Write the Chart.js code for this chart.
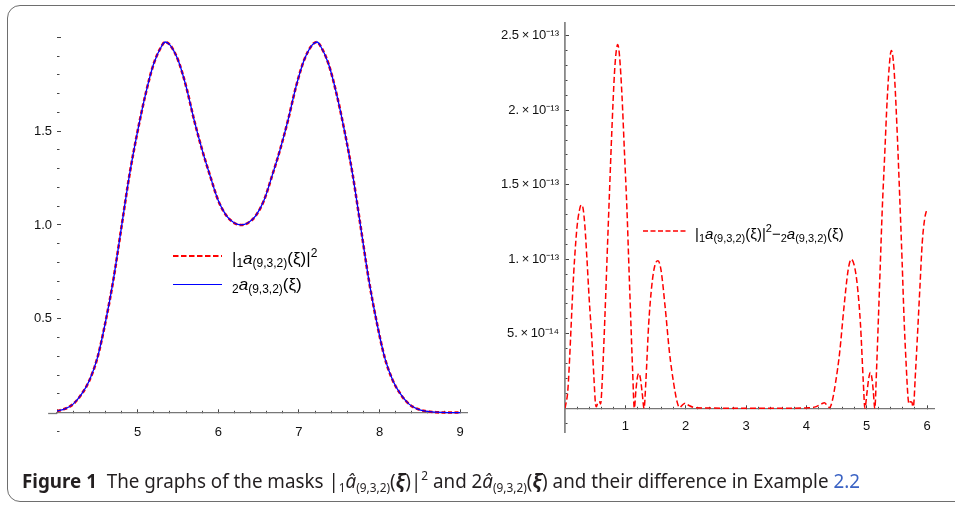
<!DOCTYPE html>
<html><head><meta charset="utf-8">
<script src="https://cdn.jsdelivr.net/npm/chart.js@4.4.0/dist/chart.umd.min.js"></script>
<style>
html,body{margin:0;padding:0;background:#fff;}
body{width:955px;height:505px;position:relative;overflow:hidden;font-family:"Liberation Sans",Arial,sans-serif;}
#frame{position:absolute;left:7px;top:5px;width:1000px;height:497px;border:1.5px solid #6e6e6e;border-radius:13px;box-sizing:border-box;}
canvas{position:absolute;top:0;}
#cL{left:0;}
#cR{left:480px;}
#over{position:absolute;left:0;top:0;}
.leg{position:absolute;font-size:17px;color:#000;white-space:nowrap;line-height:1;}
.leg sub{font-size:12px;vertical-align:-3px;}
.leg sup{font-size:12px;vertical-align:7px;}
#legR{font-size:15px;}
#legR sub{font-size:11px;}
#legR sup{font-size:11px;}
#cap{position:absolute;left:22px;top:469px;font-family:"Noto Sans",sans-serif;font-size:19px;color:#231f20;white-space:nowrap;transform-origin:0 0;line-height:1.2;}
#cap sub{font-size:12px;vertical-align:-4px;}
#cap sup{font-size:12px;vertical-align:8px;}
</style></head>
<body>
<div id="frame"></div>
<canvas id="cL" width="480" height="450"></canvas>
<canvas id="cR" width="475" height="450"></canvas>
<svg id="over" width="955" height="505">
  <line x1="173" y1="256" x2="222" y2="256" stroke="#ff0000" stroke-width="2" stroke-dasharray="5.5 2.5"/>
  <line x1="173" y1="284.5" x2="222" y2="284.5" stroke="#0000ff" stroke-width="1.2"/>
  <line x1="643" y1="231" x2="686" y2="231" stroke="#ff0000" stroke-width="1.5" stroke-dasharray="5 2.5"/>
</svg>
<div class="leg" style="left:232px;top:247px">|<sub>1</sub><i>a</i><sub>(9,3,2)</sub>(ξ)|<sup>2</sup></div>
<div class="leg" style="left:232px;top:276px"><sub>2</sub><i>a</i><sub>(9,3,2)</sub>(ξ)</div>
<div class="leg" id="legR" style="left:695px;top:223px">|<sub>1</sub><i>a</i><sub>(9,3,2)</sub>(ξ)|<sup>2</sup>−<sub>2</sub><i>a</i><sub>(9,3,2)</sub>(ξ)</div>
<div id="cap"><b>Figure 1</b>&nbsp;&nbsp;The graphs of the masks |<sub>1</sub><i>â</i><sub>(9,3,2)</sub>(<b><i>ξ</i></b>)|<sup>2</sup> and 2<i>â</i><sub>(9,3,2)</sub>(<b><i>ξ</i></b>) and their difference in Example <span style="color:#3b63c4">2.2</span></div>
<script>
// ---------- Left panel data: xi values and the two (coinciding) curves ----------
const leftXi = [4.0,4.1,4.2,4.3,4.4,4.5,4.6,4.7,4.8,4.9,5.0,5.1,5.2,5.3,5.34,5.4,5.5,5.6,5.7,5.8,5.9,6.0,6.1,6.2,6.283,
  6.366,6.466,6.566,6.666,6.766,6.866,6.966,7.066,7.166,7.226,7.266,7.366,7.466,7.566,7.666,7.766,7.866,7.966,8.066,8.166,8.266,8.366,8.466,8.566,8.7,8.85,9.0];
const leftSquared = [0.008,0.02,0.045,0.095,0.17,0.29,0.48,0.71,0.99,1.27,1.50,1.70,1.86,1.955,1.975,1.96,1.88,1.74,1.56,1.40,1.26,1.13,1.05,1.01,1.0,
  1.01,1.05,1.13,1.26,1.40,1.56,1.74,1.88,1.96,1.975,1.955,1.86,1.70,1.50,1.27,0.99,0.71,0.48,0.29,0.17,0.095,0.045,0.02,0.008,0.002,0.0,0.0];
const leftMask = [0.008,0.02,0.045,0.095,0.17,0.29,0.48,0.71,0.99,1.27,1.50,1.70,1.86,1.955,1.975,1.96,1.88,1.74,1.56,1.40,1.26,1.13,1.05,1.01,1.0,
  1.01,1.05,1.13,1.26,1.40,1.56,1.74,1.88,1.96,1.975,1.955,1.86,1.70,1.50,1.27,0.99,0.71,0.48,0.29,0.17,0.095,0.045,0.02,0.008,0.002,0.0,0.0];

// ---------- Right panel data: difference (in units of 1e-13) ----------
const rightXi = [0.000,0.020,0.045,0.070,0.100,0.130,0.160,0.200,0.240,0.270,0.300,0.330,0.364,0.400,0.447,0.480,0.505,0.520,0.545,0.570,0.590,0.600,
  0.630,0.660,0.696,0.740,0.778,0.820,0.850,0.872,0.900,0.944,0.985,1.027,1.060,1.093,1.120,1.149,1.175,1.200,1.225,1.250,1.280,1.310,
  1.340,1.386,1.440,1.490,1.540,1.590,1.662,1.730,1.800,1.860,1.900,1.940,1.990,2.050,2.150,2.300,2.600,3.000,3.300,3.700,4.000,
  4.150,4.250,4.300,4.340,4.383,4.423,4.483,4.553,4.621,4.693,4.743,4.793,4.843,4.897,4.943,4.970,5.003,5.033,5.058,5.083,5.108,5.134,
  5.163,5.190,5.223,5.256,5.298,5.339,5.383,5.408,5.433,5.463,5.505,5.543,5.587,5.620,5.653,5.683,5.700,5.725,5.750,5.765,5.780,
  5.803,5.836,5.880,5.920,5.960,6.000];
const rightDiffE13 = [0.00,0.04,0.11,0.28,0.54,0.80,1.01,1.22,1.33,1.365,1.34,1.22,1.00,0.74,0.45,0.20,0.03,0.01,0.04,0.045,0.03,0.06,
  0.30,0.60,1.00,1.48,1.88,2.25,2.40,2.44,2.38,2.10,1.72,1.33,0.94,0.56,0.26,0.00,0.12,0.21,0.235,0.20,0.10,0.00,
  0.18,0.56,0.83,0.96,0.99,0.93,0.67,0.38,0.17,0.04,0.005,0.02,0.035,0.02,0.005,0.003,0.001,0.0,0.0,0.001,0.003,
  0.010,0.030,0.037,0.022,0.005,0.04,0.17,0.38,0.67,0.93,1.00,0.96,0.83,0.56,0.18,0.00,0.10,0.20,0.24,0.21,0.12,0.00,
  0.26,0.56,0.94,1.32,1.70,2.07,2.34,2.40,2.36,2.21,1.85,1.46,0.98,0.59,0.30,0.08,0.03,0.045,0.04,0.01,0.03,
  0.20,0.45,0.80,1.11,1.27,1.34];

// ---------- Tick definitions ----------
const leftXMajor = [4,5,6,7,8,9];
const leftXLabels = ['','5','6','7','8','9'];
const leftYMajor = [0,0.5,1.0,1.5,2.0];
const leftYLabels = ['','0.5','1.0','1.5',''];
const rightXMajor = [0,1,2,3,4,5,6];
const rightXLabels = ['','1','2','3','4','5','6'];
const rightYMajor = [0,0.5,1.0,1.5,2.0,2.5];
const rightYLabels = ['','5.\u2009×\u200910⁻¹⁴','1.\u2009×\u200910⁻¹³','1.5\u2009×\u200910⁻¹³','2.\u2009×\u200910⁻¹³','2.5\u2009×\u200910⁻¹³'];

function range(a,b,s){const r=[];const n=Math.round((b-a)/s);for(let i=0;i<=n;i++)r.push(Math.round((a+i*s)*1e9)/1e9);return r;}
const leftXTicks = range(4,9,0.2);
const leftYTicks = range(-0.1,2.0,0.1);
const rightXTicks = range(0,6,0.2);
const rightYTicks = range(-0.1,2.5,0.1);

function idx(list,v){return list.findIndex(m=>Math.abs(m-v)<1e-7);}
function pts(xs,ys){return xs.map((x,i)=>({x:x,y:ys[i]}));}

const FONT = {family:'"Liberation Sans", Arial, sans-serif', size:13};
const TICKC = '#444';

function xScale(ticksArr, major, labels, min, max, tl, pad){
  return {
    type:'linear', position:{y:0}, min:min, max:max,
    afterFit(s){s.height=0;},
    afterBuildTicks(s){s.ticks = ticksArr.map(v=>({value:v}));},
    border:{display:true,color:'#777',width:1.3},
    grid:{display:true,drawOnChartArea:false,drawTicks:true,tickLength:tl,tickColor:TICKC,tickWidth:1,
      tickBorderDash:(c)=> (c.tick && idx(major,c.tick.value)>=0) ? [] : [2.5,100]},
    ticks:{autoSkip:false,maxRotation:0,minRotation:0,padding:pad,color:'#111',font:FONT,
      callback:(v)=>{const i=idx(major,v);return i>=0?labels[i]:'';}}
  };
}
function yScale(ticksArr, major, labels, min, max, tl, pad, width, borderOpts){
  return {
    type:'linear', position:'left', min:min, max:max,
    afterFit(s){s.width=width;},
    afterBuildTicks(s){s.ticks = ticksArr.map(v=>({value:v}));},
    border:borderOpts,
    grid:{display:true,drawOnChartArea:false,drawTicks:true,tickLength:tl,tickColor:TICKC,tickWidth:1,
      tickBorderDash:(c)=> (c.tick && idx(major,c.tick.value)>=0) ? [] : [0,Math.abs(tl)-2.5,2.5,100]},
    ticks:{autoSkip:false,padding:pad,color:'#111',font:FONT,
      callback:(v)=>{const i=idx(major,v);return i>=0?labels[i]:'';}}
  };
}

const axisStub = {
  id:'axisStub',
  beforeDatasetsDraw(chart,args,opts){
    if(opts.from===undefined) return;
    const xs=chart.scales.x, ys=chart.scales.y, ctx=chart.ctx;
    const py=Math.round(ys.getPixelForValue(0))+0.5;
    ctx.save(); ctx.strokeStyle='#777'; ctx.lineWidth=1.3;
    ctx.beginPath(); ctx.moveTo(xs.getPixelForValue(opts.from),py); ctx.lineTo(chart.chartArea.left,py); ctx.stroke();
    ctx.restore();
  }
};

new Chart(document.getElementById('cL'),{
  type:'line',
  data:{datasets:[
    {label:'2a(9,3,2)(ξ)',data:pts(leftXi,leftMask),borderColor:'#0000ff',borderWidth:1.3,pointRadius:0,cubicInterpolationMode:'monotone',order:0},
    {label:'|1a(9,3,2)(ξ)|^2',data:pts(leftXi,leftSquared),borderColor:'#ff0000',borderWidth:2.6,borderDash:[4,2.5],pointRadius:0,cubicInterpolationMode:'monotone',order:1}
  ]},
  options:{
    responsive:false,animation:false,
    layout:{padding:{left:7,right:12,top:37.3,bottom:12.4}},
    plugins:{legend:{display:false},tooltip:{enabled:false},axisStub:{from:3.89}},
    scales:{
      x:xScale(leftXTicks,leftXMajor,leftXLabels,4,9.093,-4,16),
      y:yScale(leftYTicks,leftYMajor,leftYLabels,-0.11,2.0,-4,9,50,{display:false})
    }
  },
  plugins:[axisStub]
});

new Chart(document.getElementById('cR'),{
  type:'line',
  data:{datasets:[
    {label:'|1a(9,3,2)(ξ)|^2 − 2a(9,3,2)(ξ)',data:pts(rightXi,rightDiffE13),borderColor:'#ff0000',borderWidth:1.5,borderDash:[6,3],pointRadius:0,cubicInterpolationMode:'monotone'}
  ]},
  options:{
    responsive:false,animation:false,
    layout:{padding:{left:5,right:21,top:23,bottom:10}},
    plugins:{legend:{display:false},tooltip:{enabled:false}},
    scales:{
      x:xScale(rightXTicks,rightXMajor,rightXLabels,0,6.115,-4,14),
      y:yScale(rightYTicks,rightYMajor,rightYLabels,-0.16,2.585,-4,10,80,{display:true,color:'#888',width:1.8})
    }
  }
});

// fit caption width to the reference span
const cap=document.getElementById('cap');
const w=cap.getBoundingClientRect().width;
cap.style.transform='scaleX('+(838/w)+')';
</script>
</body></html>
